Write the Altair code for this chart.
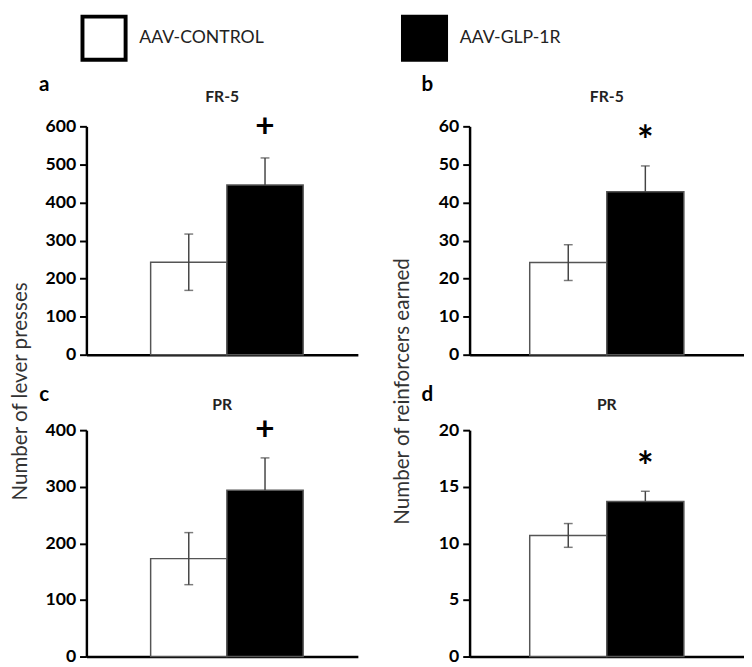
import altair as alt
import pandas as pd

# ---------------- data ----------------
groups = ["AAV-CONTROL", "AAV-GLP-1R"]
fills = ["#ffffff", "#000000"]

panel_letters = ["a", "b", "c", "d"]
panel_titles = ["FR-5", "FR-5", "PR", "PR"]
y_max = [600, 60, 400, 20]
y_ticks = [
    [0, 100, 200, 300, 400, 500, 600],
    [0, 10, 20, 30, 40, 50, 60],
    [0, 100, 200, 300, 400],
    [0, 5, 10, 15, 20],
]
means = [[243, 446], [24.2, 42.8], [173, 294], [10.7, 13.7]]
sems = [[74, 71], [4.7, 6.8], [46, 57], [1.05, 0.9]]
sig_marks = ["+", "*", "+", "*"]
sig_y = [597, 56.4, 400, 16.8]
y_titles = ["Number of lever presses", "Number of reinforcers earned"]

FONT = "Lato"
LEFT_W, RIGHT_W = 277, 280
TOP_H, BOT_H = 233, 231

legend = alt.Legend(
    orient="none", legendX=-6, legendY=-114, direction="horizontal", title=None,
    symbolType="square", symbolSize=1936, symbolStrokeWidth=4,
    symbolStrokeColor="black", symbolOpacity=1,
    labelFont=FONT, labelFontSize=18, labelColor="#222222", labelOffset=12,
    columnPadding=133, padding=0,
)


def panel(i, width, height, ytitle=None, title_x=-70, align=0.5):
    df = pd.DataFrame({"group": groups, "mean": means[i], "sem": sems[i]})
    df["hi"] = df["mean"] + df["sem"]
    df["lo"] = [m - s if g == groups[0] else m for g, m, s in zip(df["group"], df["mean"], df["sem"])]

    xscale = alt.Scale(domain=groups, paddingInner=0, paddingOuter=0.78, align=align)
    xaxis = alt.Axis(title=None, labels=False, ticks=False, domainColor="black", domainWidth=2.5)
    axis_kw = dict(values=y_ticks[i], grid=False, tickSize=7, tickWidth=2, tickColor="black",
                   domainColor="black", domainWidth=2.5, labelFont=FONT, labelFontSize=18,
                   labelFontWeight="bold", labelColor="black", labelPadding=4,
                   labelOverlap=False)
    if ytitle:
        axis_kw.update(title=ytitle, titleFont=FONT, titleFontSize=21, titleFontWeight="normal",
                       titleColor="#333333", titleX=title_x, titleY=270, titleAngle=-90,
                       titleAlign="center", titleBaseline="middle")
    else:
        axis_kw.update(title=None)
    yaxis = alt.Axis(**axis_kw)
    yscale = alt.Scale(domain=[0, y_max[i]], nice=False, zero=True)

    def X():
        return alt.X("group:N", scale=xscale, axis=xaxis)

    def Y(field):
        return alt.Y(field, type="quantitative", scale=yscale, axis=yaxis)

    base = alt.Chart(df)
    bars = base.mark_bar(stroke="#555555", strokeWidth=1.5).encode(
        x=X(), y=Y("mean"),
        fill=alt.Fill("group:N", scale=alt.Scale(domain=groups, range=fills), legend=legend),
    )
    rule = base.mark_rule(color="#444444", strokeWidth=1.5).encode(
        x=X(), y=Y("lo"), y2="hi:Q")
    cap_hi = base.mark_tick(color="#444444", thickness=1.5, size=9).encode(x=X(), y=Y("hi"))
    cap_lo = base.transform_filter(alt.datum.group == groups[0]).mark_tick(
        color="#444444", thickness=1.5, size=9).encode(x=X(), y=Y("lo"))

    is_star = sig_marks[i] == "*"
    sig = alt.Chart(pd.DataFrame({"group": [groups[1]], "y": [sig_y[i]], "t": [sig_marks[i]]})).mark_text(
        font=FONT, fontSize=40 if is_star else 34, fontWeight="bold", color="black",
        baseline="middle", dy=3 if is_star else 0,
    ).encode(x=X(), y=Y("y"), text="t:N")

    letter = alt.Chart(pd.DataFrame({"t": [panel_letters[i]]})).mark_text(
        font=FONT, fontSize=21, fontWeight="bold", color="black", baseline="middle", align="center"
    ).encode(x=alt.value(-43), y=alt.value(-42 if i < 2 else -36), text="t:N")

    title = alt.Chart(pd.DataFrame({"t": [panel_titles[i]]})).mark_text(
        font=FONT, fontSize=16, fontWeight="bold", color="#222222", baseline="middle", align="center"
    ).encode(x=alt.value(width / 2), y=alt.value(-30 if i < 2 else -26), text="t:N")

    return alt.layer(bars, rule, cap_hi, cap_lo, sig, letter, title).properties(
        width=width, height=height,
    )


pa = panel(0, LEFT_W, TOP_H, y_titles[0], -67, 0.54)
pb = panel(1, RIGHT_W, TOP_H, y_titles[1], -68)
pc = panel(2, LEFT_W, BOT_H, None, -67, 0.54)
pd_ = panel(3, RIGHT_W, BOT_H)

chart = alt.concat(
    pa, pb, pc, pd_, columns=2, bounds="flush",
    spacing=alt.RowColnumber(row=77, column=114),
).properties(
    padding={"left": 2, "top": 0, "right": 0, "bottom": 0}
).configure_view(stroke=None)

chart.save("out.html", embed_options={"renderer": "svg", "actions": False})
